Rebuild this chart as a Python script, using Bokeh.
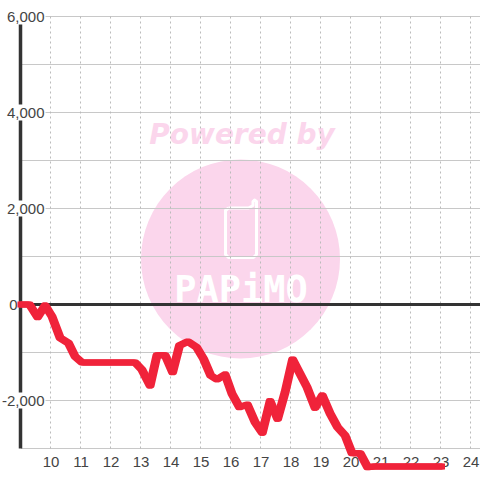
from bokeh.plotting import figure
from bokeh.embed import file_html
from bokeh.resources import INLINE
from bokeh.core.properties import value

# chart data
hours = [8.95, 9.3, 9.57, 9.82, 10.05, 10.32, 10.6, 10.82, 11.05, 12.82, 13.05, 13.32, 13.55, 13.82, 14.07, 14.3,
         14.58, 14.87, 15.1, 15.34, 15.55, 15.82, 16.05, 16.3, 16.56, 16.82, 17.06, 17.32, 17.57, 17.82, 18.07,
         18.55, 18.82, 19.06, 19.32, 19.57, 19.82, 20.05, 20.32, 20.57, 20.78, 23.1]
balance = [0, 0, -264, -20, -250, -695, -805, -1083, -1208, -1208, -1360, -1690, -1055, -1055, -1410, -854,
           -770, -890, -1130, -1480, -1562, -1458, -1860, -2140, -2083, -2452, -2673, -2014, -2382, -1826, -1146,
           -1722, -2152, -1896, -2270, -2556, -2729, -3098, -3098, -3390, -3375, -3375]
x_ticks = list(range(10, 25))
x_labels = [str(v) for v in x_ticks]
y_grid = list(range(-3000, 7000, 1000))
y_ticks = [6000, 4000, 2000, -2000]
y_labels = ["6,000", "4,000", "2,000", "-2,000"]
zero_label = ["0"]
watermark = ["Powered by"]
logo_text = ["PAPiMO"]

X0, Y0 = 9, 0
def dx(px): return X0 + (px - 20.0) / 30
def dy(py): return Y0 + (304.0 - py) / 0.048

p = figure(width=480, height=480, output_backend="svg", toolbar_location=None,
           x_range=(dx(0), dx(480)), y_range=(dy(480), dy(0)),
           x_axis_type=None, y_axis_type=None, min_border=0, outline_line_color=None)
p.grid.visible = False
p.styles = {"position": "absolute", "left": "0px", "top": "0px"}
p.background_fill_color = "white"
p.border_fill_color = "white"

PINK = "#fbd6ec"
# watermark
p.scatter([dx(240)], [dy(258.5)], size=199, color=PINK, line_color=None)
p.text([dx(241.5)], [dy(133.5)], text=watermark, text_align="center", text_baseline="middle",
       text_font=value("DejaVu Sans"), text_font_style="bold italic", text_font_size="28px", text_color=PINK)
phone_x = [228, 248, 252.5, 252.5, 254, 256, 256, 253, 228, 225, 225, 228]
phone_y = [207.5, 207.5, 205, 201, 199.5, 201, 254, 257, 257, 254, 210, 207.5]
p.line([dx(v) for v in phone_x], [dy(v) for v in phone_y], line_color="white", line_width=3, line_join="round")
p.text([dx(240.5)], [dy(289)], text=logo_text, text_align="center", text_baseline="middle",
       text_font=value("DejaVu Sans Mono"), text_font_style="bold", text_font_size="37px", text_color="white")

# grid
GRID = "#c8c8c8"
p.segment([dx(20.5)] * len(y_grid), y_grid, [dx(480)] * len(y_grid), y_grid, line_color=GRID, line_width=1)
p.segment(x_ticks, [-3000] * len(x_ticks), x_ticks, [6000] * len(x_ticks), line_color="#bbbbbb", line_width=1,
          line_dash="2 3")

# axes
AXIS = "#333333"
p.segment([X0], [-3000], [X0], [6000], line_color=AXIS, line_width=3.5)
p.segment([X0], [0], [dx(480)], [0], line_color=AXIS, line_width=3)

# labels, each on a white plate that interrupts the axis and the grid
TXT = "#444444"
p.rect([dx(22.5)] * len(y_ticks), y_ticks, width=45, height=16, width_units="screen", height_units="screen",
       fill_color="white", line_color=None)
p.text([dx(44)] * len(y_ticks), y_ticks, text=y_labels, text_align="right", text_baseline="middle",
       text_font=value("Liberation Sans"), text_font_size="15px", text_color=TXT)
p.text([dx(17)], [0], text=zero_label, text_align="right", text_baseline="middle",
       text_font=value("Liberation Sans"), text_font_size="15px", text_color=TXT)
p.text([v + 0.5 / 30 for v in x_ticks], [dy(461)] * len(x_ticks), text=x_labels, text_align="center",
       text_baseline="middle", text_font=value("Liberation Sans"), text_font_size="15px", text_color=TXT)

# series: the reference's pen is wider horizontally than vertically, so it is laid down three times side by side
for shift in (-0.05, 0.0, 0.05):
    p.line([h + shift for h in hours], balance, line_color="#f0233a", line_width=6, line_join="round")

open("out.html", "w").write(file_html(p, INLINE))
